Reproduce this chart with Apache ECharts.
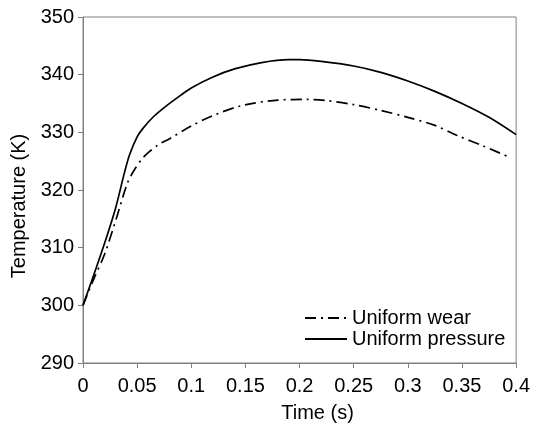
<!DOCTYPE html>
<html>
<head>
<meta charset="utf-8">
<script src="https://cdn.jsdelivr.net/npm/echarts@6/dist/echarts.min.js"></script>
<style>
  html, body { margin: 0; padding: 0; background: #fff; }
  #chart { width: 533px; height: 428px; }
</style>
</head>
<body>
<div id="chart"></div>
<script>
// time (s) and temperature (K)
const pressureTime = [0, 0.01, 0.02, 0.03, 0.038, 0.043, 0.05, 0.055, 0.065, 0.077, 0.09, 0.1, 0.12, 0.14, 0.165, 0.19, 0.2, 0.22, 0.25, 0.275, 0.3, 0.325, 0.35, 0.375, 0.4]
const pressureTemp = [300, 305.3, 310.8, 316.8, 322.8, 326.1, 329.2, 330.6, 332.7, 334.6, 336.4, 337.7, 339.6, 341.0, 342.1, 342.6, 342.6, 342.3, 341.5, 340.4, 338.9, 337.1, 335.0, 332.6, 329.6]

const wearTime = [0, 0.01, 0.02, 0.031, 0.041, 0.0475, 0.055, 0.061, 0.07, 0.08, 0.1, 0.12, 0.146, 0.18, 0.207, 0.225, 0.25, 0.275, 0.3, 0.325, 0.345, 0.37, 0.395]
const wearTemp = [300, 304.6, 308.9, 315.2, 321.2, 323.5, 325.5, 326.6, 327.9, 328.9, 331.1, 332.9, 334.6, 335.6, 335.7, 335.5, 334.8, 333.8, 332.6, 331.2, 329.5, 327.6, 325.6]

const zip = (xs, ys) => xs.map((x, i) => [x, ys[i]])

const chart = echarts.init(document.getElementById('chart'))
const font = 'Liberation Sans, Arial, sans-serif'
const axisGray = '#808080'
const textColor = '#000'

chart.setOption({
  animation: false,
  textStyle: { fontFamily: font },
  grid: {
    left: 83, right: 12, top: 17, bottom: 61,
    show: true, borderColor: axisGray, borderWidth: 1
  },
  legend: {
    orient: 'vertical',
    left: 299,
    top: 303,
    itemWidth: 42,
    itemHeight: 14,
    itemGap: 1,
    itemStyle: { opacity: 0 },
    textStyle: { fontSize: 20, color: textColor, fontFamily: font },
    data: ['Uniform wear', 'Uniform pressure']
  },
  xAxis: {
    type: 'value',
    min: 0, max: 0.4, interval: 0.05,
    name: 'Time (s)',
    nameLocation: 'middle',
    nameGap: 40,
    nameTextStyle: { fontSize: 20, color: textColor, padding: [0, 0, 0, 36] },
    axisLine: { lineStyle: { color: axisGray } },
    axisTick: { show: true, length: 5, lineStyle: { color: axisGray } },
    axisLabel: { fontSize: 20, color: textColor, margin: 13 },
    splitLine: { show: false }
  },
  yAxis: {
    type: 'value',
    min: 290, max: 350, interval: 10,
    name: 'Temperature (K)',
    nameLocation: 'middle',
    nameRotate: 90,
    nameGap: 52,
    nameTextStyle: { fontSize: 20, color: textColor, padding: [0, 32, 0, 0] },
    axisLine: { show: true, lineStyle: { color: axisGray } },
    axisTick: { show: true, length: 5, lineStyle: { color: axisGray } },
    axisLabel: { fontSize: 20, color: textColor, margin: 9 },
    splitLine: { show: false }
  },
  series: [
    {
      name: 'Uniform wear',
      type: 'line',
      symbol: 'none',
      smooth: 0.3,
      data: zip(wearTime, wearTemp),
      lineStyle: { color: '#000', width: 1.7, type: [11, 5, 2, 5] },
      itemStyle: { color: '#000' }
    },
    {
      name: 'Uniform pressure',
      type: 'line',
      symbol: 'none',
      smooth: 0.3,
      data: zip(pressureTime, pressureTemp),
      lineStyle: { color: '#000', width: 1.7, type: 'solid' },
      itemStyle: { color: '#000' }
    }
  ]
})
</script>
</body>
</html>
